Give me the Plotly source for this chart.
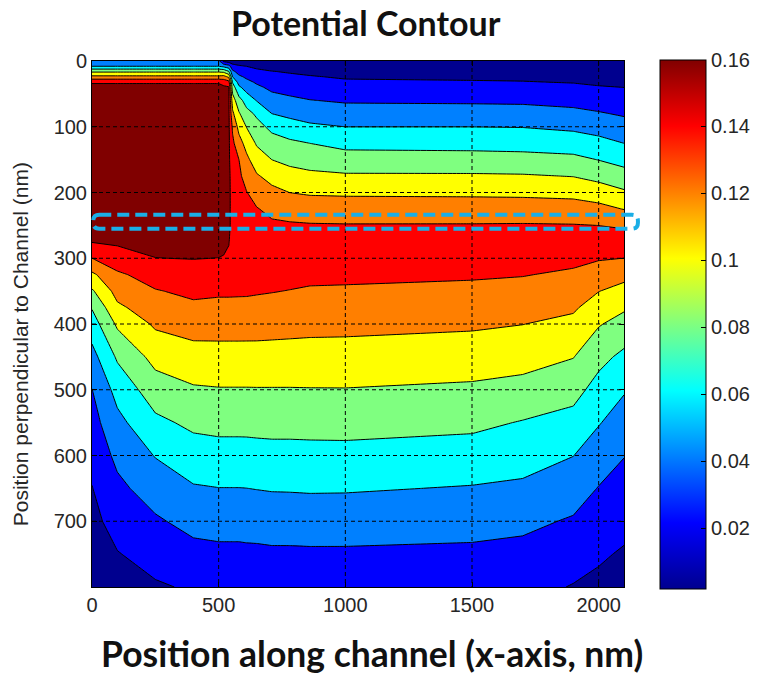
import numpy as np
import plotly.graph_objects as go

# Grid of the device cross-section (nm)
x_nm = [0, 100, 250, 400, 500, 520, 540, 555, 580, 610, 650, 710, 780, 860,
        1000, 1500, 1700, 1900, 2000, 2100]
y_nm = [0, 8, 16, 24, 32, 40, 60, 80, 100, 125, 150, 175, 200, 225, 250,
        275, 300, 325, 350, 375, 400, 450, 500, 550, 600, 650, 700, 750, 800]

# Potential (V) down each column, one profile per x position (top -> bottom)
v_x0 = [0.045, 0.06, 0.097, 0.125, 0.158, 0.165, 0.165, 0.165, 0.165, 0.165, 0.165, 0.165, 0.165, 0.165, 0.165,
        0.1608, 0.1399, 0.1162, 0.0974, 0.0813, 0.0706, 0.0532, 0.0396, 0.0327, 0.0259, 0.0194, 0.0149, 0.0105, 0.006]
v_x100 = [0.045, 0.06, 0.097, 0.125, 0.158, 0.165, 0.165, 0.165, 0.165, 0.165, 0.165, 0.165, 0.165, 0.165, 0.165,
          0.1625, 0.1523, 0.1365, 0.1269, 0.1163, 0.1032, 0.0827, 0.0668, 0.0545, 0.0446, 0.0355, 0.0272, 0.0191, 0.013]
v_x250 = [0.045, 0.06, 0.097, 0.125, 0.158, 0.165, 0.165, 0.165, 0.165, 0.165, 0.165, 0.165, 0.165, 0.165, 0.165,
          0.1642, 0.1598, 0.1491, 0.1387, 0.1308, 0.1229, 0.1063, 0.0906, 0.0756, 0.0609, 0.0489, 0.0374, 0.0267, 0.018]
v_x400 = [0.045, 0.06, 0.097, 0.125, 0.158, 0.165, 0.165, 0.165, 0.165, 0.165, 0.165, 0.165, 0.165, 0.165, 0.165,
          0.165, 0.1605, 0.1527, 0.1443, 0.1361, 0.1279, 0.1124, 0.0978, 0.0841, 0.071, 0.0583, 0.0461, 0.034, 0.022]
v_x500 = [0.045, 0.06, 0.097, 0.125, 0.158, 0.165, 0.165, 0.165, 0.165, 0.165, 0.165, 0.165, 0.165, 0.165, 0.165,
          0.165, 0.1598, 0.1514, 0.1428, 0.1352, 0.1276, 0.113, 0.0989, 0.0856, 0.0726, 0.0597, 0.0471, 0.0357, 0.026]
v_x520 = [0.015, 0.055, 0.095, 0.127, 0.153, 0.163, 0.165, 0.165, 0.165, 0.165, 0.165, 0.165, 0.165, 0.165, 0.165,
          0.1641, 0.159, 0.151, 0.1428, 0.1352, 0.1276, 0.113, 0.0989, 0.0856, 0.0726, 0.0597, 0.0471, 0.0357, 0.026]
v_x540 = [0.01, 0.048, 0.081, 0.116, 0.1467, 0.1615, 0.163, 0.163, 0.163, 0.163, 0.163, 0.163, 0.163, 0.163, 0.163,
          0.161, 0.1567, 0.1497, 0.1428, 0.1352, 0.1276, 0.113, 0.0989, 0.0856, 0.0726, 0.0597, 0.0471, 0.0357, 0.026]
v_x555 = [0.008, 0.028, 0.044, 0.0601, 0.0778, 0.09, 0.1096, 0.1239, 0.1368, 0.144, 0.149, 0.154, 0.155, 0.155, 0.155,
          0.1516, 0.1482, 0.1452, 0.1427, 0.1352, 0.1276, 0.113, 0.0989, 0.0856, 0.0726, 0.0597, 0.0471, 0.0357, 0.027]
v_x580 = [0.007, 0.0227, 0.0333, 0.0435, 0.0529, 0.0633, 0.0874, 0.1021, 0.1139, 0.1275, 0.1401, 0.1436, 0.1473, 0.1509, 0.1545,
          0.1536, 0.1496, 0.1458, 0.1425, 0.1352, 0.1276, 0.113, 0.0989, 0.0856, 0.0726, 0.0597, 0.0471, 0.0357, 0.027]
v_x610 = [0.006, 0.0199, 0.0284, 0.0368, 0.0448, 0.0524, 0.0714, 0.0869, 0.0994, 0.1133, 0.1244, 0.1329, 0.1407, 0.1452, 0.1496,
          0.1541, 0.1512, 0.1473, 0.1425, 0.1349, 0.1275, 0.113, 0.0989, 0.0856, 0.0728, 0.0599, 0.0473, 0.0362, 0.027]
v_x650 = [0.005, 0.0159, 0.0242, 0.0308, 0.0375, 0.0438, 0.0592, 0.0765, 0.087, 0.0978, 0.11, 0.122, 0.132, 0.1411, 0.1464,
          0.1518, 0.1528, 0.1472, 0.1416, 0.1347, 0.1274, 0.113, 0.099, 0.086, 0.0732, 0.0605, 0.0477, 0.0363, 0.027]
v_x710 = [0.005, 0.013, 0.0206, 0.0256, 0.0306, 0.0356, 0.0479, 0.0599, 0.0748, 0.0884, 0.0999, 0.1135, 0.1252, 0.1352, 0.1431,
          0.1492, 0.1528, 0.1468, 0.1407, 0.1338, 0.1268, 0.1128, 0.099, 0.0863, 0.0738, 0.0613, 0.0485, 0.037, 0.028]
v_x780 = [0.006, 0.0122, 0.0184, 0.0234, 0.028, 0.0326, 0.044, 0.0554, 0.0683, 0.0836, 0.095, 0.1072, 0.1199, 0.1322, 0.1422,
          0.1482, 0.1518, 0.1456, 0.1395, 0.1328, 0.1261, 0.1126, 0.099, 0.0863, 0.0738, 0.0615, 0.0486, 0.037, 0.028]
v_x860 = [0.007, 0.0117, 0.0165, 0.0211, 0.0254, 0.0297, 0.0406, 0.0517, 0.0633, 0.0799, 0.0919, 0.1043, 0.1178, 0.1305, 0.1414,
          0.1473, 0.1507, 0.1443, 0.138, 0.1316, 0.1253, 0.1124, 0.0992, 0.0866, 0.0741, 0.062, 0.0489, 0.0373, 0.029]
v_x1000 = [0.008, 0.0114, 0.0149, 0.0183, 0.0222, 0.0267, 0.0378, 0.0489, 0.0599, 0.0743, 0.0883, 0.1024, 0.1171, 0.1298, 0.141,
           0.1471, 0.1507, 0.144, 0.1375, 0.1313, 0.125, 0.1122, 0.0993, 0.0868, 0.0743, 0.0618, 0.0488, 0.0373, 0.029]
v_x1500 = [0.008, 0.0112, 0.0144, 0.0176, 0.0211, 0.0257, 0.0371, 0.0486, 0.0599, 0.0735, 0.0876, 0.1023, 0.1166, 0.1295, 0.1411,
           0.1479, 0.1492, 0.1422, 0.1356, 0.1292, 0.1228, 0.1097, 0.0968, 0.0843, 0.0715, 0.0588, 0.0467, 0.0363, 0.028]
v_x1700 = [0.007, 0.0104, 0.0137, 0.0171, 0.0206, 0.0251, 0.0366, 0.048, 0.0594, 0.0726, 0.0867, 0.1017, 0.116, 0.1295, 0.1414,
           0.1482, 0.1472, 0.1408, 0.134, 0.1271, 0.1203, 0.1074, 0.0936, 0.0789, 0.0679, 0.0566, 0.0444, 0.0345, 0.026]
v_x1900 = [0.006, 0.0093, 0.0126, 0.0159, 0.0192, 0.0232, 0.0341, 0.045, 0.0561, 0.0703, 0.0847, 0.0994, 0.1145, 0.1284, 0.1409,
           0.148, 0.1445, 0.1371, 0.1296, 0.1226, 0.1153, 0.1006, 0.0867, 0.0732, 0.0603, 0.049, 0.038, 0.028, 0.019]
v_x2000 = [0.005, 0.0082, 0.0113, 0.0145, 0.0176, 0.021, 0.0313, 0.0416, 0.0524, 0.0659, 0.0795, 0.0941, 0.11, 0.1257, 0.1399,
           0.1471, 0.1415, 0.1313, 0.1204, 0.1109, 0.1015, 0.0858, 0.0728, 0.0612, 0.05, 0.0392, 0.0308, 0.0224, 0.016]
v_x2100 = [0.004, 0.0072, 0.0104, 0.0136, 0.0168, 0.0199, 0.0289, 0.0378, 0.0475, 0.0599, 0.0735, 0.0876, 0.1027, 0.1193, 0.1385,
           0.1458, 0.1399, 0.1257, 0.1135, 0.1026, 0.0928, 0.0756, 0.0617, 0.0509, 0.0406, 0.0328, 0.0252, 0.0181, 0.012]

profiles = [v_x0, v_x100, v_x250, v_x400, v_x500, v_x520, v_x540, v_x555, v_x580, v_x610,
            v_x650, v_x710, v_x780, v_x860, v_x1000, v_x1500, v_x1700, v_x1900, v_x2000, v_x2100]
potential = np.column_stack(profiles)   # rows follow y_nm, columns follow x_nm

# Axis ticks and colour-bar labels
x_ticks = [0, 500, 1000, 1500, 2000]
y_ticks = [0, 100, 200, 300, 400, 500, 600, 700]
cbar_ticks = [0.02, 0.04, 0.06, 0.08, 0.10, 0.12, 0.14, 0.16]
cbar_labels = ["0.02", "0.04", "0.06", "0.08", "0.1", "0.12", "0.14", "0.16"]
cbar_range = [0.002, 0.16]

# Channel region of interest (nm)
roi_x = [5, 2155]
roi_y = [234, 255]

X_RANGE = [0, 2100]
Y_RANGE = [0, 800]

jet = [[0.0, "rgb(0,0,143)"], [0.125, "rgb(0,0,255)"], [0.375, "rgb(0,255,255)"],
       [0.625, "rgb(255,255,0)"], [0.875, "rgb(255,0,0)"], [1.0, "rgb(128,0,0)"]]

tick_font = dict(family="Arial, Liberation Sans, sans-serif", size=20, color="#262626")
title_font = dict(family="Lato, Open Sans, sans-serif", size=34, color="#111111")
xlabel_font = dict(family="Lato, Open Sans, sans-serif", size=35.5, color="#111111")

fig = go.Figure()

fig.add_trace(go.Contour(
    x=x_nm, y=y_nm, z=potential,
    colorscale=jet, showscale=False,
    contours=dict(start=0.02, end=0.16, size=0.02, coloring="fill"),
    line=dict(color="black", width=1, smoothing=0),
    hoverinfo="skip",
))

# Continuous colour bar for the potential scale
fig.add_trace(go.Scatter(
    x=[None], y=[None], mode="markers", showlegend=False, hoverinfo="skip",
    marker=dict(
        color=[cbar_range[0]], cmin=cbar_range[0], cmax=cbar_range[1],
        colorscale=jet, showscale=True,
        colorbar=dict(
            x=1.0677, xanchor="left", xpad=0, y=0.5, yanchor="middle", ypad=0,
            len=1.005, lenmode="fraction", thickness=46,
            outlinewidth=1, outlinecolor="black",
            tickvals=cbar_ticks, ticktext=cbar_labels,
            ticks="inside", ticklen=5, tickcolor="black",
            tickfont=tick_font,
        ),
    ),
))

axis_common = dict(
    showgrid=False, zeroline=False, showline=True, linecolor="black", linewidth=1,
    mirror="ticks", ticks="inside", ticklen=5, tickcolor="black", tickfont=tick_font,
)
fig.update_xaxes(range=X_RANGE, tickvals=x_ticks, **axis_common)
fig.update_yaxes(range=Y_RANGE[::-1], tickvals=y_ticks, **axis_common)

# Dashed grid drawn on top of the filled contours
shapes = []
for xv in x_ticks:
    if X_RANGE[0] < xv < X_RANGE[1]:
        shapes.append(dict(type="line", xref="x", yref="y", x0=xv, x1=xv, y0=Y_RANGE[0], y1=Y_RANGE[1],
                           line=dict(color="black", width=1, dash="4px,3px"), layer="above"))
for yv in y_ticks:
    if Y_RANGE[0] < yv < Y_RANGE[1]:
        shapes.append(dict(type="line", xref="x", yref="y", x0=X_RANGE[0], x1=X_RANGE[1], y0=yv, y1=yv,
                           line=dict(color="black", width=1, dash="4px,3px"), layer="above"))

# Rounded dashed outline around the channel band (extends past the plot edge)
W, H = 758, 679
M = dict(l=92, r=134, t=61, b=92, autoexpand=False)
plot_w = W - M["l"] - M["r"]
plot_h = H - M["t"] - M["b"]
px0 = (roi_x[0] - X_RANGE[0]) / (X_RANGE[1] - X_RANGE[0])
px1 = (roi_x[1] - X_RANGE[0]) / (X_RANGE[1] - X_RANGE[0])
py_top = 1 - (roi_y[0] - Y_RANGE[0]) / (Y_RANGE[1] - Y_RANGE[0])
py_bot = 1 - (roi_y[1] - Y_RANGE[0]) / (Y_RANGE[1] - Y_RANGE[0])
rx, ry = 6 / plot_w, 6 / plot_h
roi_path = (f"M {px0 + rx},{py_top} L {px1 - rx},{py_top} Q {px1},{py_top} {px1},{py_top - ry} "
            f"L {px1},{py_bot + ry} Q {px1},{py_bot} {px1 - rx},{py_bot} "
            f"L {px0 + rx},{py_bot} Q {px0},{py_bot} {px0},{py_bot + ry} "
            f"L {px0},{py_top - ry} Q {px0},{py_top} {px0 + rx},{py_top} Z")
shapes.append(dict(type="path", xref="paper", yref="paper", path=roi_path,
                   line=dict(color="#1AAEE6", width=4, dash="12px,6px"), layer="above"))

annotations = [
    dict(text="<b>Potential Contour</b>", xref="paper", yref="paper", x=0.515, y=1.074,
         xanchor="center", yanchor="middle", showarrow=False, font=title_font),
    dict(text="<b>Position along channel (x-axis, nm)</b>", xref="paper", yref="paper", x=0.526, y=-0.126,
         xanchor="center", yanchor="middle", showarrow=False, font=xlabel_font),
    dict(text="Position perpendicular to Channel (nm)", xref="paper", yref="paper", x=-0.133, y=0.462,
         xanchor="center", yanchor="middle", textangle=-90, showarrow=False,
         font=dict(family="Arial, Liberation Sans, sans-serif", size=21, color="#262626")),
]

fig.update_layout(
    width=W, height=H, margin=M,
    paper_bgcolor="white", plot_bgcolor="white",
    shapes=shapes, annotations=annotations, showlegend=False,
)

fig.write_html("out.html")
